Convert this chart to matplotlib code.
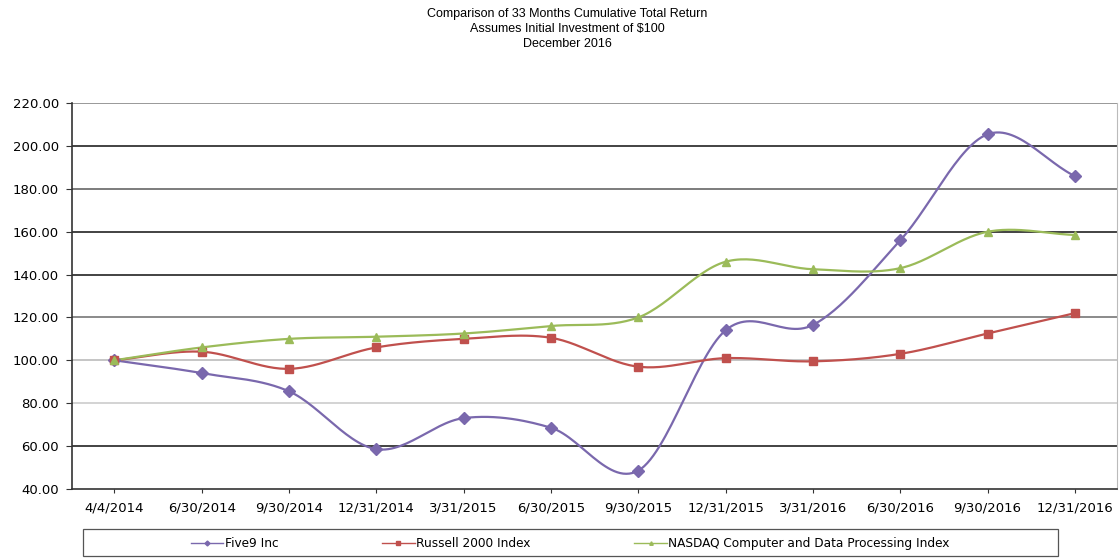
import matplotlib
matplotlib.use('Agg')
import matplotlib.pyplot as plt
from matplotlib.patches import Rectangle
import numpy as np

plt.rcParams['font.family'] = ['Liberation Sans', 'DejaVu Sans']

# Datos
fechas = ['4/4/2014', '6/30/2014', '9/30/2014', '12/31/2014', '3/31/2015', '6/30/2015',
          '9/30/2015', '12/31/2015', '3/31/2016', '6/30/2016', '9/30/2016', '12/31/2016']
five9 = [100.0, 94.0, 85.5, 58.5, 73.0, 68.5, 48.5, 114.0, 116.5, 156.0, 205.5, 186.0]
russell = [100.0, 104.0, 96.0, 106.0, 110.0, 110.5, 97.0, 101.0, 99.5, 103.0, 112.5, 122.0]
nasdaq = [100.0, 106.0, 110.0, 111.0, 112.5, 116.0, 120.0, 146.0, 142.5, 143.0, 160.0, 158.5]

nombres = ['Five9 Inc', 'Russell 2000 Index', 'NASDAQ Computer and Data Processing Index']
colores = ['#7a68ad', '#c0504d', '#9bbb59']
marcas = ['D', 's', '^']


def suavizar(x, y, n=30):
    # curva suave tipo Catmull-Rom (como el "smoothed line" de Excel)
    x = np.asarray(x, float)
    y = np.asarray(y, float)
    px = np.concatenate([[2*x[0]-x[1]], x, [2*x[-1]-x[-2]]])
    py = np.concatenate([[2*y[0]-y[1]], y, [2*y[-1]-y[-2]]])
    xs, ys = [], []
    t = np.linspace(0, 1, n)
    for i in range(1, len(px)-2):
        for p, out in ((px, xs), (py, ys)):
            p0, p1, p2, p3 = p[i-1], p[i], p[i+1], p[i+2]
            out.extend(0.5*((2*p1) + (-p0+p2)*t + (2*p0-5*p1+4*p2-p3)*t**2
                            + (-p0+3*p1-3*p2+p3)*t**3))
    return np.array(xs), np.array(ys)


fig = plt.figure(figsize=(11.19, 5.58), dpi=100)
ax = fig.add_axes([0.064, 0.124, 0.934, 0.691])

xpos = np.arange(len(fechas))
lineas = []
for serie, c, m, nom in zip([five9, russell, nasdaq], colores, marcas, nombres):
    sx, sy = suavizar(xpos, serie)
    ax.plot(sx, sy, color=c, lw=1.6, zorder=3)
    ax.plot(xpos, serie, ls='none', marker=m, color=c, ms=6, zorder=4)
    lineas.append(plt.Line2D([], [], color=c, marker=m, ms=2.5, lw=1.0, label=nom))

ax.set_ylim(40, 220)
ax.set_xlim(-0.49, len(fechas)-0.52)
yt = np.arange(40, 221, 20)
ax.set_yticks(yt)
ax.set_yticklabels(['%.2f' % v for v in yt], fontsize=9.5, family='DejaVu Sans')
ax.set_xticks(xpos)
ax.set_xticklabels(fechas, fontsize=9.5, family='DejaVu Sans')
ax.tick_params(axis='x', length=3, pad=6, colors='#333333', labelcolor='black')
ax.tick_params(axis='y', length=4, pad=5, colors='#333333', labelcolor='black')

# líneas de rejilla (unas más oscuras que otras, como en la imagen)
tonos = {60: '#222222', 80: '#cccccc', 100: '#bbbbbb', 120: '#777777', 140: '#222222',
         160: '#222222', 180: '#666666', 200: '#222222', 220: '#888888'}
for v, col in tonos.items():
    ax.axhline(v, color=col, lw=1.2, zorder=1)

ax.spines['top'].set_visible(False)
ax.spines['right'].set_color('#bbbbbb')
ax.spines['left'].set_color('#333333')
ax.spines['bottom'].set_color('#333333')
ax.spines['left'].set_linewidth(1.2)
ax.spines['bottom'].set_linewidth(1.2)

fig.text(0.507, 0.985, 'Comparison of 33 Months Cumulative Total Return\n'
         'Assumes Initial Investment of $100\nDecember 2016',
         ha='center', va='top', fontsize=9, linespacing=1.3)

# caja de la leyenda
fig.patches.append(Rectangle((0.074, 0.003), 0.8715, 0.049, transform=fig.transFigure,
                             fill=False, edgecolor='#555555', lw=0.9))
leg = fig.legend(handles=lineas, loc='center', bbox_to_anchor=(0.5095, 0.026),
                 ncol=3, frameon=False, handlelength=2.7, handletextpad=0.1,
                 columnspacing=8.6, prop={'family': 'DejaVu Sans', 'size': 8.7})

fig.savefig('out.png', dpi=100)
